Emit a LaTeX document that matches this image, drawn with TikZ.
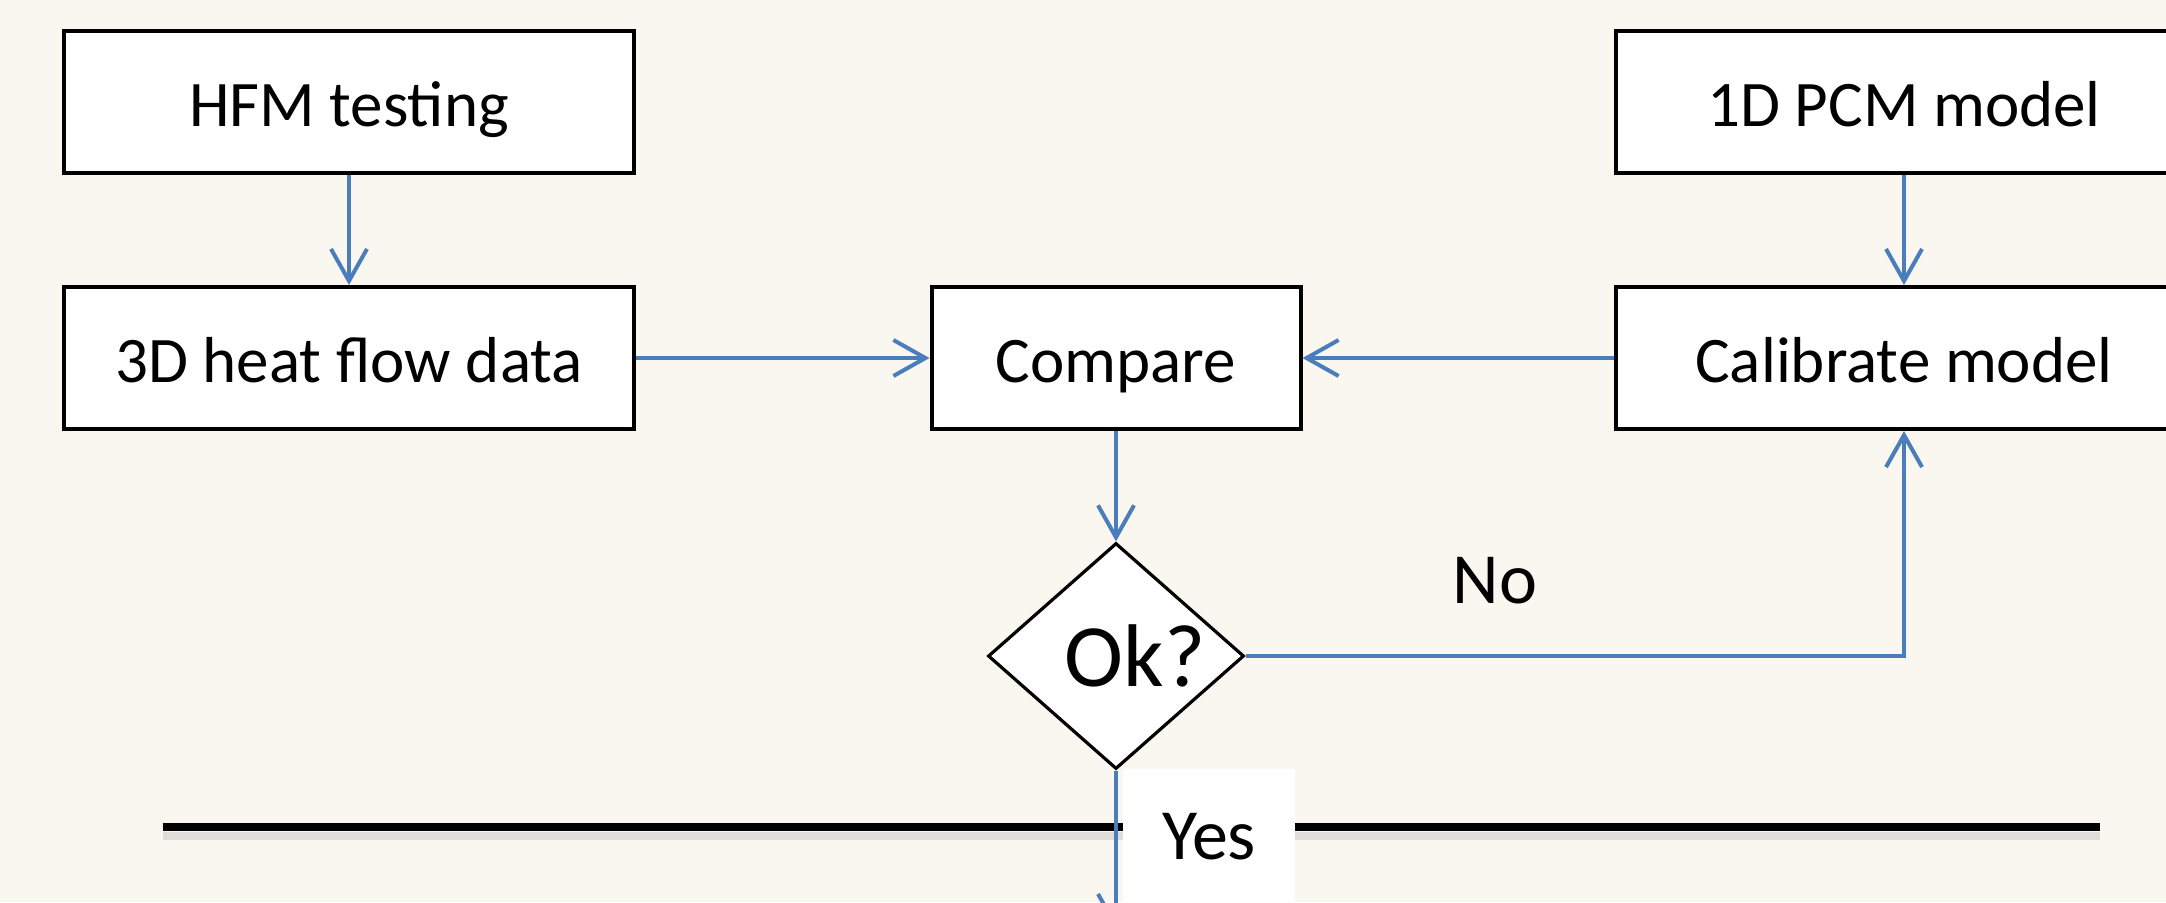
\documentclass[tikz,border=0pt]{standalone}
\usepackage{fontspec}
\setmainfont{Carlito}
\usetikzlibrary{positioning,shapes.geometric,arrows.meta}
\definecolor{bgcream}{RGB}{250,247,240}
\definecolor{flowblue}{RGB}{74,126,187}

\begin{document}
\begin{tikzpicture}[x=0.5pt,y=-0.5pt,
    procbox/.style={draw, line width=2pt, fill=white, minimum height=71pt, inner sep=0pt, text height=26pt, text depth=1.2pt, font=\fontsize{32.5}{39}\selectfont},
    decision/.style={diamond, draw, line width=1.6pt, fill=white, aspect=1.13, inner sep=0pt, minimum width=128pt, minimum height=113pt},
    flow/.style={draw=flowblue, line width=2pt, -{Straight Barb[length=16pt,width=18pt]}},
    answer/.style={font=\fontsize{36}{43}\selectfont}]
    \useasboundingbox[fill=bgcream] (0,0) rectangle (2166,902);
    \clip (0,0) rectangle (2166,902);

    \node[procbox, minimum width=285pt] (hfm) at (349,102) {HFM testing};
    \node[procbox, minimum width=285pt] (heat) at (349,358) {3D heat flow data};
    \node[procbox, minimum width=184.5pt] (compare) at (1116,358) {Compare};
    \node[procbox, minimum width=288pt] (pcm) at (1904,102) {1D PCM model};
    \node[procbox, minimum width=288pt] (calib) at (1904,358) {Calibrate model};
    \node[decision, label={[font=\fontsize{44.5}{53}\selectfont, xshift=9.5pt]center:Ok?}] (ok) at (1116,656) {};
    \coordinate (out) at (1116,930);

    % separator line with its shadow
    \draw[line width=4pt, black!20, opacity=.6] (163,836) -- (2100,836);
    \draw[line width=4pt] (163,827) -- (2100,827);

    \draw[flow] (hfm) -- (heat);
    \draw[flow] (pcm) -- (calib);
    \draw[flow] (heat) -- (compare);
    \draw[flow] (calib) -- (compare);
    \draw[flow] (compare) -- (ok);
    \draw[flow] (ok.east) -| (calib.south);
    \draw[flow] (ok.south) -- (out);

    \node[answer, fill=white, minimum width=86pt, minimum height=68pt] (yes) at (1209,837) {Yes};
    \node[answer] (no) at (1495,581) {No};
\end{tikzpicture}
\end{document}
